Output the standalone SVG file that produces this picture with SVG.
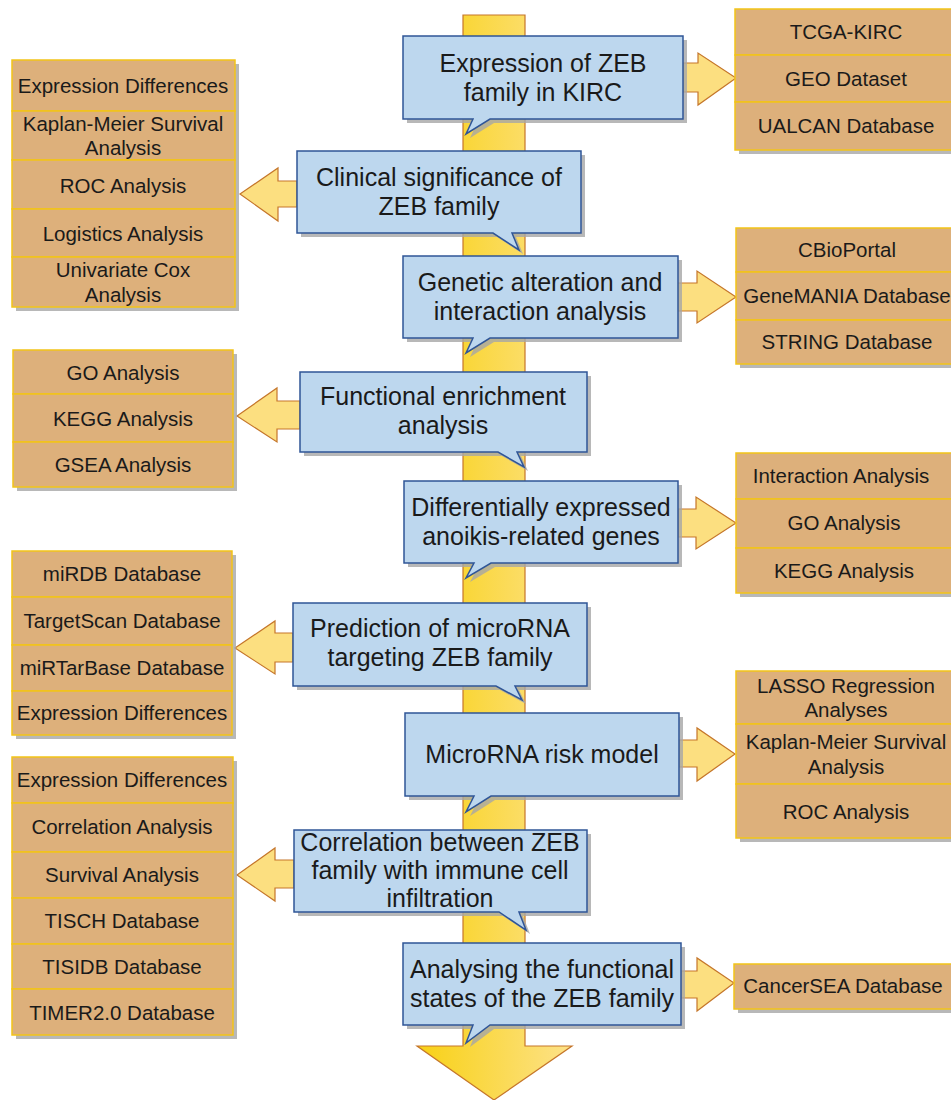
<svg xmlns="http://www.w3.org/2000/svg" width="951" height="1100" viewBox="0 0 951 1100">
<style>
.bx{fill:#ddb07b;stroke:#f2c418;stroke-width:1.5}
.sh{fill:#a6a6a6;opacity:0.8}
.co{fill:#bdd7ee;stroke:#2f5597;stroke-width:1.5}
.ar{fill:#fcdf80;stroke:#c5762a;stroke-width:1.2}
.bt{font-family:"Liberation Sans",Arial,sans-serif;font-size:20.5px;fill:#1a1a1a;text-anchor:middle}
.ct{font-family:"Liberation Sans",Arial,sans-serif;font-size:25px;fill:#1a1a1a;text-anchor:middle}
</style>
<defs>
<linearGradient id="gShaft" x1="0" y1="0" x2="1" y2="0">
<stop offset="0" stop-color="#f8d115"/>
<stop offset="1" stop-color="#fde289"/>
</linearGradient>
<linearGradient id="gHead" x1="0" y1="0" x2="1" y2="0">
<stop offset="0" stop-color="#f8d115"/>
<stop offset="1" stop-color="#fde289"/>
</linearGradient>
</defs>
<rect width="951" height="1100" fill="#ffffff"/>

<g id="connectors">
<path d="M463,15 H525 V1046 H572 L494,1100 L417,1046 H463 Z" fill="url(#gShaft)" stroke="#c5762a" stroke-width="1.2"/>
<path class="ar" d="M683,63 H698 V53 L736,78 L698,105 V92 H683 Z"/>
<path class="ar" d="M297,181 H278 V168 L240,194 L278,221 V207 H297 Z"/>
<path class="ar" d="M677,283 H697 V271 L736,297 L697,323 V311 H677 Z"/>
<path class="ar" d="M300,401 H277 V388 L237,416 L277,442 V429 H300 Z"/>
<path class="ar" d="M678,509 H696 V497 L736,523 L696,549 V537 H678 Z"/>
<path class="ar" d="M293,633 H275 V621 L235,648 L275,674 V662 H293 Z"/>
<path class="ar" d="M679,740 H697 V728 L735,754 L697,781 V767 H679 Z"/>
<path class="ar" d="M294,860 H275 V848 L237,875 L275,901 V888 H294 Z"/>
<path class="ar" d="M681,971 H697 V958 L734,983 L697,1011 V998 H681 Z"/>
</g>

<g id="box-expr-sources">
<rect class="sh" x="739" y="13" width="222" height="141"/>
<rect class="bx" x="735" y="9" width="222" height="46"/>
<rect class="bx" x="735" y="55" width="222" height="47"/>
<rect class="bx" x="735" y="102" width="222" height="48"/>
<text class="bt" x="846" y="39">TCGA-KIRC</text>
<text class="bt" x="846" y="86">GEO Dataset</text>
<text class="bt" x="846" y="133">UALCAN Database</text>
</g>

<g id="box-clinical-methods">
<rect class="sh" x="16" y="64" width="223" height="247"/>
<rect class="bx" x="12" y="60" width="223" height="51"/>
<rect class="bx" x="12" y="111" width="223" height="49"/>
<rect class="bx" x="12" y="160" width="223" height="49"/>
<rect class="bx" x="12" y="209" width="223" height="48"/>
<rect class="bx" x="12" y="257" width="223" height="50"/>
<text class="bt" x="123" y="93">Expression Differences</text>
<text class="bt" x="123" y="131">Kaplan-Meier Survival</text>
<text class="bt" x="123" y="155">Analysis</text>
<text class="bt" x="123" y="193">ROC Analysis</text>
<text class="bt" x="123" y="241">Logistics Analysis</text>
<text class="bt" x="123" y="277">Univariate Cox</text>
<text class="bt" x="123" y="302">Analysis</text>
</g>

<g id="box-genetic-sources">
<rect class="sh" x="740" y="232" width="222" height="136"/>
<rect class="bx" x="736" y="228" width="222" height="44"/>
<rect class="bx" x="736" y="272" width="222" height="48"/>
<rect class="bx" x="736" y="320" width="222" height="44"/>
<text class="bt" x="847" y="257">CBioPortal</text>
<text class="bt" x="847" y="303">GeneMANIA Database</text>
<text class="bt" x="847" y="349">STRING Database</text>
</g>

<g id="box-enrichment-methods">
<rect class="sh" x="17" y="354" width="220" height="137"/>
<rect class="bx" x="13" y="350" width="220" height="44"/>
<rect class="bx" x="13" y="394" width="220" height="48"/>
<rect class="bx" x="13" y="442" width="220" height="45"/>
<text class="bt" x="123" y="380">GO Analysis</text>
<text class="bt" x="123" y="426">KEGG Analysis</text>
<text class="bt" x="123" y="472">GSEA Analysis</text>
</g>

<g id="box-deg-methods">
<rect class="sh" x="740" y="457" width="222" height="140"/>
<rect class="bx" x="736" y="453" width="222" height="46"/>
<rect class="bx" x="736" y="499" width="222" height="49"/>
<rect class="bx" x="736" y="548" width="222" height="45"/>
<text class="bt" x="841" y="483">Interaction Analysis</text>
<text class="bt" x="844" y="530">GO Analysis</text>
<text class="bt" x="844" y="578">KEGG Analysis</text>
</g>

<g id="box-mirna-sources">
<rect class="sh" x="16" y="555" width="220" height="184"/>
<rect class="bx" x="12" y="551" width="220" height="46"/>
<rect class="bx" x="12" y="597" width="220" height="48"/>
<rect class="bx" x="12" y="645" width="220" height="46"/>
<rect class="bx" x="12" y="691" width="220" height="44"/>
<text class="bt" x="122" y="581">miRDB Database</text>
<text class="bt" x="122" y="628">TargetScan Database</text>
<text class="bt" x="122" y="675">miRTarBase Database</text>
<text class="bt" x="122" y="720">Expression Differences</text>
</g>

<g id="box-risk-methods">
<rect class="sh" x="740" y="675" width="222" height="167"/>
<rect class="bx" x="736" y="671" width="222" height="53"/>
<rect class="bx" x="736" y="724" width="222" height="60"/>
<rect class="bx" x="736" y="784" width="222" height="54"/>
<text class="bt" x="846" y="693">LASSO Regression</text>
<text class="bt" x="846" y="717">Analyses</text>
<text class="bt" x="846" y="749">Kaplan-Meier Survival</text>
<text class="bt" x="846" y="774">Analysis</text>
<text class="bt" x="846" y="819">ROC Analysis</text>
</g>

<g id="box-immune-methods">
<rect class="sh" x="16" y="761" width="221" height="278"/>
<rect class="bx" x="12" y="757" width="221" height="46"/>
<rect class="bx" x="12" y="803" width="221" height="49"/>
<rect class="bx" x="12" y="852" width="221" height="46"/>
<rect class="bx" x="12" y="898" width="221" height="46"/>
<rect class="bx" x="12" y="944" width="221" height="45"/>
<rect class="bx" x="12" y="989" width="221" height="46"/>
<text class="bt" x="122" y="787">Expression Differences</text>
<text class="bt" x="122" y="834">Correlation Analysis</text>
<text class="bt" x="122" y="882">Survival Analysis</text>
<text class="bt" x="122" y="928">TISCH Database</text>
<text class="bt" x="122" y="974">TISIDB Database</text>
<text class="bt" x="122" y="1020">TIMER2.0 Database</text>
</g>

<g id="box-states-source">
<rect class="sh" x="738" y="968" width="222" height="45"/>
<rect class="bx" x="734" y="964" width="222" height="45"/>
<text class="bt" x="843" y="993">CancerSEA Database</text>
</g>

<g id="step1">
<path class="sh" d="M407,40 H687 V123 H494 L470,138 L477,123 H407 Z"/>
<path class="co" d="M403,36 H683 V119 H490 L466,134 L473,119 H403 Z"/>
<text class="ct" x="543" y="72">Expression of ZEB</text>
<text class="ct" x="543" y="101">family in KIRC</text>
</g>

<g id="step2">
<path class="sh" d="M301,155 H585 V237 H516 L523,254 L497,237 H301 Z"/>
<path class="co" d="M297,151 H581 V233 H512 L519,250 L493,233 H297 Z"/>
<text class="ct" x="439" y="186">Clinical significance of</text>
<text class="ct" x="439" y="215">ZEB family</text>
</g>

<g id="step3">
<path class="sh" d="M407,260 H682 V342 H494 L470,357 L477,342 H407 Z"/>
<path class="co" d="M403,256 H678 V338 H490 L466,353 L473,338 H403 Z"/>
<text class="ct" x="540" y="291">Genetic alteration and</text>
<text class="ct" x="540" y="320">interaction analysis</text>
</g>

<g id="step4">
<path class="sh" d="M304,376 H591 V456 H521 L528,471 L502,456 H304 Z"/>
<path class="co" d="M300,372 H587 V452 H517 L524,467 L498,452 H300 Z"/>
<text class="ct" x="443" y="405">Functional enrichment</text>
<text class="ct" x="443" y="434">analysis</text>
</g>

<g id="step5">
<path class="sh" d="M408,485 H682 V567 H495 L470,582 L478,567 H408 Z"/>
<path class="co" d="M404,481 H678 V563 H491 L466,578 L474,563 H404 Z"/>
<text class="ct" x="541" y="516">Differentially expressed</text>
<text class="ct" x="541" y="545">anoikis-related genes</text>
</g>

<g id="step6">
<path class="sh" d="M297,607 H591 V690 H519 L526,704 L500,690 H297 Z"/>
<path class="co" d="M293,603 H587 V686 H515 L522,700 L496,686 H293 Z"/>
<text class="ct" x="440" y="637">Prediction of microRNA</text>
<text class="ct" x="440" y="666">targeting ZEB family</text>
</g>

<g id="step7">
<path class="sh" d="M409,717 H683 V800 H495 L470,816 L478,800 H409 Z"/>
<path class="co" d="M405,713 H679 V796 H491 L466,812 L474,796 H405 Z"/>
<text class="ct" x="542" y="763">MicroRNA risk model</text>
</g>

<g id="step8">
<path class="sh" d="M298,834 H591 V916 H523 L530,934 L503,916 H298 Z"/>
<path class="co" d="M294,830 H587 V912 H519 L526,930 L499,912 H294 Z"/>
<text class="ct" x="440" y="851">Correlation between ZEB</text>
<text class="ct" x="440" y="879">family with immune cell</text>
<text class="ct" x="440" y="907">infiltration</text>
</g>

<g id="step9">
<path class="sh" d="M407,947 H685 V1029 H494 L470,1047 L477,1029 H407 Z"/>
<path class="co" d="M403,943 H681 V1025 H490 L466,1043 L473,1025 H403 Z"/>
<text class="ct" x="542" y="978">Analysing the functional</text>
<text class="ct" x="542" y="1007">states of the ZEB family</text>
</g>
</svg>
